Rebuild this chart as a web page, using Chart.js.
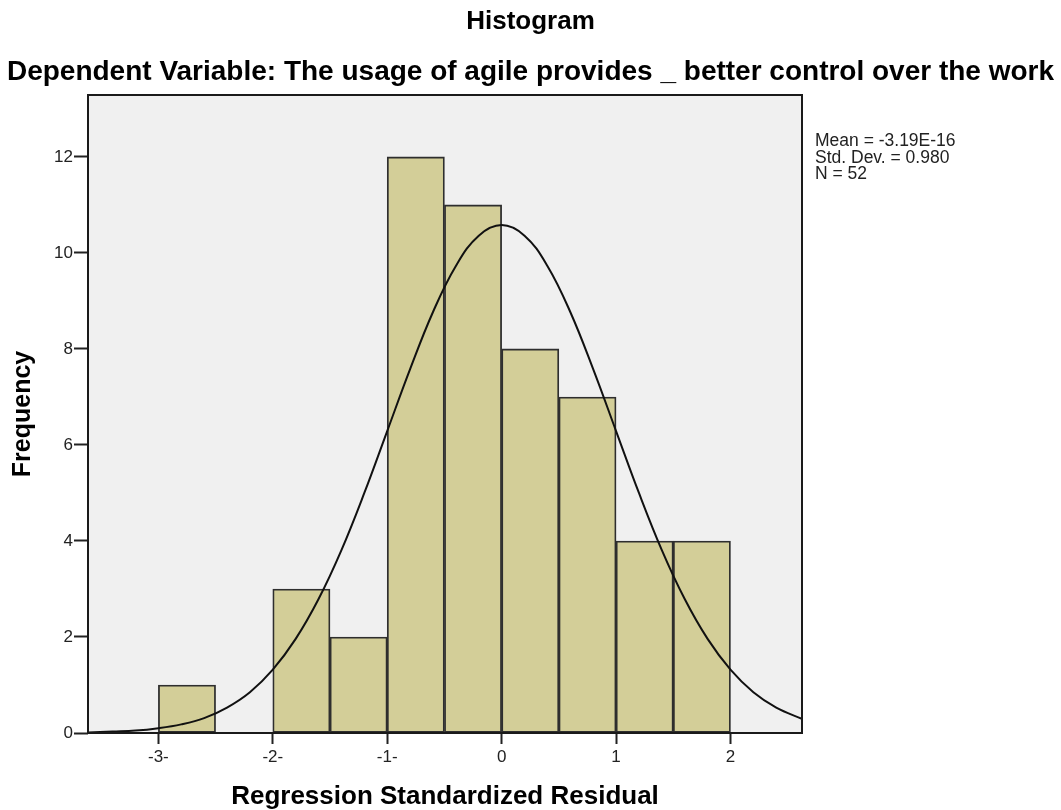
<!DOCTYPE html>
<html><head><meta charset="utf-8">
<script src="https://cdn.jsdelivr.net/npm/chart.js@4.4.0/dist/chart.umd.min.js"></script>
<style>html,body{margin:0;padding:0;background:#fff}canvas{display:block}</style>
</head><body>
<canvas id="c" width="1061" height="810"></canvas>
<script>
// ---- data ----
const binCenters = [-2.75, -2.25, -1.75, -1.25, -0.75, -0.25, 0.25, 0.75, 1.25, 1.75];
const frequencies = [1, 0, 3, 2, 12, 11, 8, 7, 4, 4];
const curveX = [-3.62, -3.4, -3.2, -3.0, -2.8, -2.6, -2.4, -2.2, -2.0, -1.8, -1.6, -1.4, -1.2, -1.0, -0.8, -0.6, -0.4, -0.2, 0,
                0.2, 0.4, 0.6, 0.8, 1.0, 1.2, 1.4, 1.6, 1.8, 2.0, 2.2, 2.4, 2.63];
const curveY = [0.01, 0.03, 0.05, 0.10, 0.18, 0.31, 0.53, 0.85, 1.32, 1.96, 2.79, 3.81, 5.00, 6.29, 7.58, 8.77, 9.73, 10.36, 10.58,
                10.36, 9.73, 8.77, 7.58, 6.29, 5.00, 3.81, 2.79, 1.96, 1.32, 0.85, 0.53, 0.29];
const xTickValues = [-3, -2, -1, 0, 1, 2];
const xTickLabels = ['-3-', '-2-', '-1-', '0', '1', '2'];
const yTickValues = [0, 2, 4, 6, 8, 10, 12];
const statsLines = ['Mean = -3.19E-16', 'Std. Dev. = 0.980', 'N = 52'];
const titleText = 'Histogram';
const subtitleText = 'Dependent Variable: The usage of agile provides _ better control over the work';
const xTitle = 'Regression Standardized Residual';
const yTitle = 'Frequency';

const FONT = "'Liberation Sans', Arial, sans-serif";

const plotFrame = {
  id: 'plotFrame',
  beforeDraw(chart) {
    const {ctx, chartArea: a} = chart;
    ctx.save();
    ctx.fillStyle = '#fff';
    ctx.fillRect(0, 0, chart.width, chart.height);
    ctx.fillStyle = '#F0F0F0';
    ctx.fillRect(a.left, a.top, a.right - a.left, a.bottom - a.top);
    ctx.restore();
  },
  afterDatasetsDraw(chart) {
    const {ctx, chartArea: a} = chart;
    ctx.save();
    ctx.strokeStyle = '#1a1a1a';
    ctx.lineWidth = 2;
    ctx.strokeRect(a.left, a.top, a.right - a.left, a.bottom - a.top);
    ctx.restore();
  }
};

const statsText = {
  id: 'statsText',
  afterDraw(chart) {
    const {ctx, chartArea: a} = chart;
    ctx.save();
    ctx.font = '17.5px ' + FONT;
    ctx.fillStyle = '#222';
    ctx.textBaseline = 'alphabetic';
    ctx.textAlign = 'left';
    statsLines.forEach((t, i) => ctx.fillText(t, a.right + 13, 146 + i * 16.5));
    ctx.restore();
  }
};

new Chart(document.getElementById('c'), {
  type: 'bar',
  data: {
    datasets: [
      {
        type: 'line',
        order: 0,
        data: curveX.map((x, i) => ({x, y: curveY[i]})),
        borderColor: '#111',
        borderWidth: 2,
        pointRadius: 0,
        tension: 0.4,
        fill: false
      },
      {
        type: 'bar',
        order: 1,
        data: binCenters.map((x, i) => ({x, y: frequencies[i]})),
        backgroundColor: '#D3CE98',
        borderColor: '#2e2e2e',
        borderWidth: 1.8,
        borderSkipped: false,
        barPercentage: 1,
        categoryPercentage: 1,
        grouped: false
      }
    ]
  },
  options: {
    responsive: false,
    animation: false,
    events: [],
    layout: {padding: 0},
    plugins: {
      legend: {display: false},
      tooltip: {enabled: false},
      title: {display: true, text: titleText, color: '#000',
        font: {family: FONT, size: 26, weight: 'bold', lineHeight: 1}, padding: {top: 9, bottom: 0}},
      subtitle: {display: true, text: subtitleText, color: '#000',
        font: {family: FONT, size: 28, weight: 'bold', lineHeight: 1}, padding: {top: 23, bottom: 9}}
    },
    scales: {
      x: {
        type: 'linear', position: 'bottom', min: -3.615, max: 2.625, offset: false,
        afterBuildTicks(s) { s.ticks = xTickValues.map(v => ({value: v})); },
        afterFit(s) { s.height = 77; },
        grid: {display: true, drawOnChartArea: false, drawTicks: true, tickLength: 11, tickColor: '#222', tickWidth: 2, offset: false},
        border: {display: false},
        ticks: {color: '#222', font: {family: FONT, size: 17}, padding: 3, maxRotation: 0,
          callback: (v, i) => xTickLabels[i]},
        title: {display: true, text: xTitle, color: '#000', font: {family: FONT, size: 26, weight: 'bold', lineHeight: 1}, padding: {top: 0, bottom: 0}}
      },
      y: {
        type: 'linear', position: 'left', min: 0, max: 13.29,
        afterBuildTicks(s) { s.ticks = yTickValues.map(v => ({value: v})); },
        afterFit(s) { s.width = 88; },
        grid: {display: true, drawOnChartArea: false, drawTicks: true, tickLength: 14, tickColor: '#222', tickWidth: 2},
        border: {display: false},
        ticks: {color: '#222', font: {family: FONT, size: 17}, padding: 1, callback: v => String(v)},
        title: {display: true, text: yTitle, color: '#000', font: {family: FONT, size: 25, weight: 'bold', lineHeight: 1}, padding: {top: 11, bottom: 0}}
      },
      y2: {
        type: 'linear', position: 'right', min: 0, max: 1, display: true,
        grid: {display: false}, border: {display: false}, ticks: {display: false},
        afterFit(s) { s.width = 259; }
      }
    }
  },
  plugins: [plotFrame, statsText]
});
</script>
</body></html>
